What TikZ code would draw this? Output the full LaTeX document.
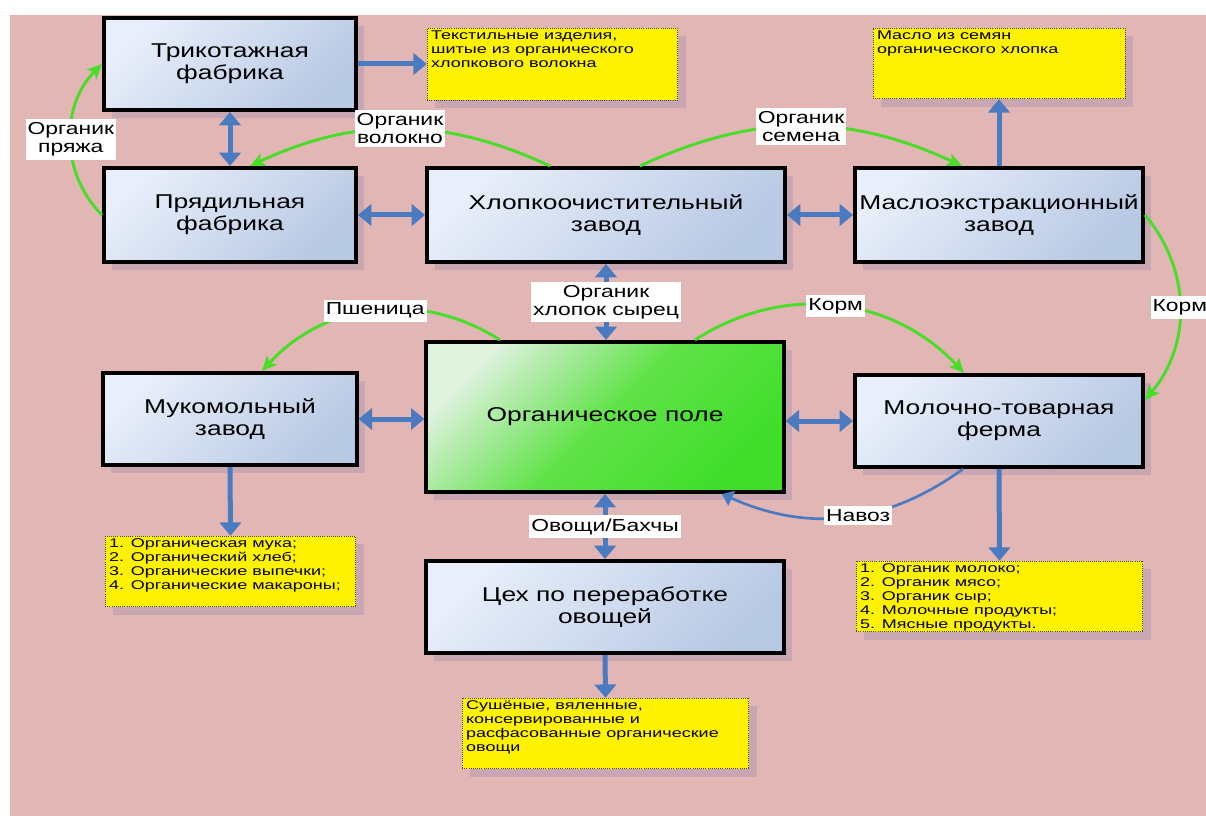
\documentclass[tikz,border=0pt]{standalone}
\usepackage{fontspec}
\setmainfont{Liberation Sans}[FakeStretch=1.32]
\newfontfamily\notefont{Liberation Sans}[FakeStretch=1.42]
\usetikzlibrary{arrows.meta,shadows}

\definecolor{bgpink}{RGB}{227,182,182}
\definecolor{boxlight}{RGB}{232,238,250}
\definecolor{boxdark}{RGB}{184,201,228}
\definecolor{fieldlight}{RGB}{222,242,222}
\definecolor{fieldmid}{RGB}{96,226,72}
\definecolor{fieldgreen}{RGB}{64,222,42}
\definecolor{flowblue}{RGB}{74,122,192}
\definecolor{flowgreen}{RGB}{72,222,40}
\definecolor{shadowgray}{RGB}{150,140,172}

\newcommand{\notetext}[3]{\parbox[c][#1][t]{#2}{\raggedright\notefont\fontsize{9.5}{10.5}\selectfont #3}}

\begin{document}
\begin{tikzpicture}[x=0.75pt,y=0.75pt,
		boxshadow/.style={drop shadow={shadow xshift=6pt,shadow yshift=-6pt,fill=shadowgray,opacity=0.35}},
		unit/.style={boxshadow,draw=black,line width=3pt,top color=boxlight,bottom color=boxdark,shading angle=45,inner sep=2pt,align=center,font=\fontsize{15}{16.5}\selectfont},
		field/.style={boxshadow,draw=black,line width=3pt,top color=fieldlight,bottom color=fieldgreen,middle color=fieldmid,shading angle=45,align=center,font=\fontsize{15}{16.5}\selectfont},
		product/.style={boxshadow,draw=black!75,densely dotted,line width=0.6pt,fill=yellow,inner xsep=3pt,inner ysep=2pt},
		flowlabel/.style={fill=white,inner xsep=1.5pt,inner ysep=2.5pt,align=center,font=\fontsize{13}{13.5}\selectfont},
		bluearrow/.style={draw=flowblue,line width=3.75pt,-{Triangle[length=10pt,width=16pt]}},
		bluetwin/.style={draw=flowblue,line width=3.75pt,{Triangle[length=10pt,width=16pt]}-{Triangle[length=10pt,width=16pt]}},
		greenarrow/.style={draw=flowgreen,line width=2.2pt,-{Stealth[length=11pt,width=10pt,inset=2.5pt]}},
		navoz/.style={draw=flowblue,line width=2pt,-{Triangle[length=8pt,width=12pt]}}]
		\useasboundingbox (0,0) rectangle (1206,-816);
		\fill [white] (0,0) rectangle (1206,-816);
		\fill [bgpink] (10,-15) rectangle (1206,-816);
		\node [unit,minimum width=189pt,minimum height=69pt] (trik) at (230,-64) {Трикотажная\\фабрика};
		\node [unit,minimum width=189pt,minimum height=70.5pt] (pryad) at (230,-215) {Прядильная\\фабрика};
		\node [unit,minimum width=268.5pt,minimum height=70.5pt] (khlop) at (606,-215) {Хлопкоочистительный\\завод};
		\node [unit,minimum width=216pt,minimum height=70.5pt] (maslo) at (999,-215) {Маслоэкстракционный\\завод};
		\node [unit,minimum width=190pt,minimum height=69pt] (mukom) at (230,-419) {Мукомольный\\завод};
		\node [field,minimum width=268pt,minimum height=112.5pt] (pole) at (605,-417) {Органическое поле};
		\node [unit,minimum width=216pt,minimum height=69pt] (moloch) at (999,-421) {Молочно-товарная\\ферма};
		\node [unit,minimum width=268pt,minimum height=69pt] (tsekh) at (605,-607) {Цех по переработке\\овощей};
		\node [product] (textile) at (552.5,-64) {\notetext{50pt}{182pt}{Текстильные изделия,\\шитые из органического\\хлопкового волокна}};
		\node [product] (oil) at (999,-63.5) {\notetext{49pt}{183pt}{Масло из семян\\органического хлопка}};
		\node [product] (muka) at (230.5,-571.5) {\notetext{49pt}{182pt}{1. Органическая мука;\\2. Органический хлеб;\\3. Органические выпечки;\\4. Органические макароны;}};
		\node [product] (moloko) at (999.5,-596.5) {\notetext{49pt}{209pt}{1. Органик молоко;\\2. Органик мясо;\\3. Органик сыр;\\4. Молочные продукты;\\5. Мясные продукты.}};
		\node [product] (veg) at (605.5,-733.5) {\notetext{49pt}{209pt}{Сушёные, вяленные,\\консервированные и\\расфасованные органические\\овощи}};
		\draw [bluearrow] (trik.east) -- (textile.west);
		\draw [bluetwin] (trik.south) -- (pryad.north);
		\draw [bluetwin] (pryad.east) -- (khlop.west);
		\draw [bluetwin] (khlop.east) -- (maslo.west);
		\draw [bluearrow] (maslo.north) -- (oil.south);
		\draw [bluetwin] (khlop.south) -- node [flowlabel] {Органик\\хлопок сырец} (khlop.south |- pole.north);
		\draw [bluetwin] (mukom.east) -- (mukom.east -| pole.west);
		\draw [bluetwin] (pole.east |- moloch.west) -- (moloch.west);
		\draw [bluearrow] (mukom.south) -- (muka.north);
		\draw [bluetwin] (pole.south) -- node [flowlabel] {Овощи/Бахчы} (tsekh.north);
		\draw [bluearrow] (tsekh.south) -- (veg.north);
		\draw [bluearrow] (moloch.south) -- (moloko.north);
		\draw [greenarrow] (pryad.west) to [bend left=45] node [flowlabel] {Органик\\пряжа} (trik.west);
		\draw [greenarrow] ([xshift=-42pt]khlop.north) to [bend right=25] node [flowlabel] {Органик\\волокно} ([xshift=15pt]pryad.north);
		\draw [greenarrow] ([xshift=25.5pt]khlop.north) to [bend left=25] node [flowlabel] {Органик\\семена} ([xshift=-27.75pt]maslo.north);
		\draw [greenarrow] ([xshift=-78.75pt]pole.north) to [bend right=40] node [flowlabel] {Пшеница} ([xshift=24pt]mukom.north);
		\draw [greenarrow] ([xshift=67.5pt]pole.north) to [bend left=40] node [flowlabel] {Корм} ([xshift=-26.25pt]moloch.north);
		\draw [greenarrow] (maslo.east) to [bend left=40] node [flowlabel] {Корм} ([yshift=15.75pt]moloch.east);
		\draw [navoz] ([xshift=-27pt]moloch.south) to [bend left=30] node [flowlabel,pos=0.45] {Навоз} ([xshift=87.75pt]pole.south);
	\end{tikzpicture}
\end{document}
